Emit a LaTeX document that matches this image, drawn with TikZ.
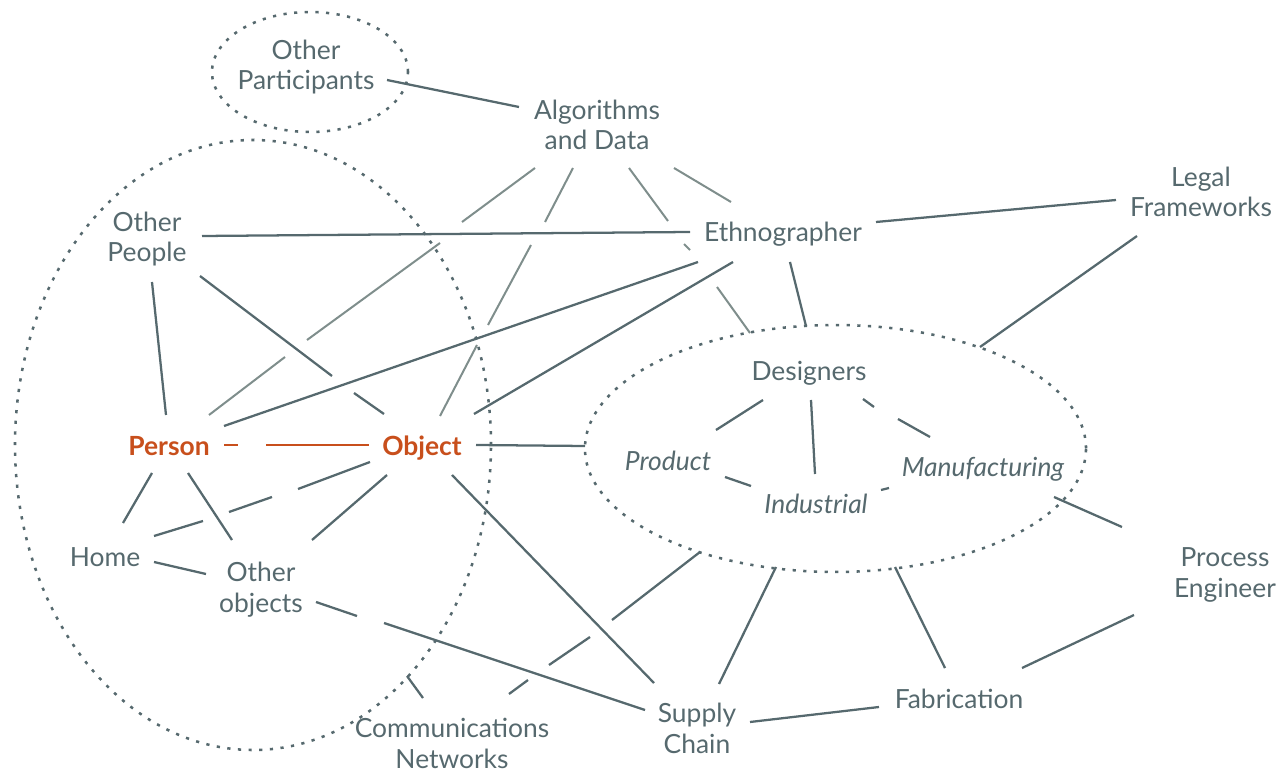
\documentclass[tikz,border=0pt]{standalone}
\usepackage{fontspec}
\setmainfont{Lato}
\definecolor{ink}{HTML}{56696E}
\definecolor{lite}{HTML}{7F8E8C}
\definecolor{rust}{HTML}{C84F1C}
\begin{document}
\begin{tikzpicture}[x=0.75pt,y=-0.75pt]
\tikzset{
  lbl/.style={font=\fontsize{19.8}{22.9}\selectfont, text=ink, inner sep=0pt, align=center, anchor=base},
  key/.style={lbl, font=\fontsize{19.8}{22.9}\selectfont\bfseries, text=rust},
  ital/.style={lbl, font=\fontsize{19.8}{22.9}\selectfont\itshape},
  conn/.style={draw=ink, line width=1.7pt},
  faint/.style={draw=lite, line width=1.5pt},
  hot/.style={draw=rust, line width=1.7pt},
  grp/.style={draw=ink, line width=1.9pt, dash pattern=on 2.4pt off 5.6pt}
}
\useasboundingbox (0,0) rectangle (1282,773);
% groups
\draw[grp] (310,72) ellipse [x radius=73.5pt, y radius=45pt];
\draw[grp] (253,445) ellipse [x radius=178.5pt, y radius=228.75pt];
\draw[grp] (835.5,448.5) ellipse [x radius=187.9pt, y radius=92.6pt];
% labels (multi-line nodes sit on the baseline of their last line)
\node[lbl] (op) at (306,90) {Other\\Participants};
\node[lbl] (ad) at (597,150) {Algorithms\\and Data};
\node[lbl] (ope) at (147,262) {Other\\People};
\node[lbl] (eth) at (783,242) {Ethnographer};
\node[lbl] (leg) at (1201,217) {Legal\\Frameworks};
\node[lbl] (des) at (809,381) {Designers};
\node[ital] (prod) at (668,470) {Product};
\node[ital] (ind) at (816,513) {Industrial};
\node[ital] (man) at (983,477) {Manufacturing};
\node[key] (per) at (169,456) {Person};
\node[key] (obj) at (422,456) {Object};
\node[lbl] (home) at (105,566) {Home};
\node[lbl] (oob) at (261,612) {Other\\objects};
\node[lbl] (pe) at (1225,597) {Process\\Engineer};
\node[lbl] (cn) at (452,768) {Communications\\Networks};
\node[lbl] (sc) at (697,753) {Supply\\Chain};
\node[lbl] (fab) at (959,708) {Fabrication};
% light connectors from Algorithms and Data
\draw[faint] (535,168)--(462,222);
\draw[faint] (440,243)--(307,340);
\draw[faint] (285,357)--(209,415);
\draw[faint] (573,168)--(545,222);
\draw[faint] (531,245)--(488,325);
\draw[faint] (477,345)--(440,416);
\draw[faint] (629,168)--(668,221);
\draw[faint] (684,244)--(690,250);
\draw[faint] (717,287)--(750,333);
\draw[faint] (674,168)--(731,202);
% dark connectors
\draw[conn] (387,80)--(519,107);
\draw[conn] (202,236)--(690,232);
\draw[conn] (876,222)--(1116,200);
\draw[conn] (1137,236)--(980,347);
\draw[conn] (790,262)--(806,326);
\draw[conn] (698,262)--(224,426);
\draw[conn] (733,262)--(474,414);
\draw[conn] (152,282)--(166,415);
\draw[conn] (200,276)--(332,376);
\draw[conn] (354,393)--(384,414);
\draw[conn] (476,445)--(585,446);
\draw[conn] (152,473)--(123,523);
\draw[conn] (188,473)--(232,540);
\draw[conn] (370,462)--(298,489);
\draw[conn] (272,497)--(229,512);
\draw[conn] (203,521)--(154,536);
\draw[conn] (387,475)--(312,540);
\draw[conn] (452,475)--(654,683);
\draw[conn] (154,562)--(206,574);
\draw[conn] (316,602)--(357,616);
\draw[conn] (384,623)--(645,710);
\draw[conn] (700,552)--(612,620);
\draw[conn] (590,637)--(549,665);
\draw[conn] (528,680)--(509,694);
\draw[conn] (407,676)--(423,698);
\draw[conn] (776,567)--(719,684);
\draw[conn] (895,567)--(945,668);
\draw[conn] (750,722)--(879,707);
\draw[conn] (1022,668)--(1134,615);
\draw[conn] (1054,497)--(1122,527);
\draw[conn] (763,400)--(716,430);
\draw[conn] (811,400)--(815,474);
\draw[conn] (863,399)--(874,407);
\draw[conn] (898,419)--(930,437);
\draw[conn] (725,477)--(751,486);
\draw[conn] (881,490)--(889,488);
% person - object
\draw[hot] (224,445)--(238,445);
\draw[hot] (266,445)--(369,445);
\end{tikzpicture}
\end{document}
